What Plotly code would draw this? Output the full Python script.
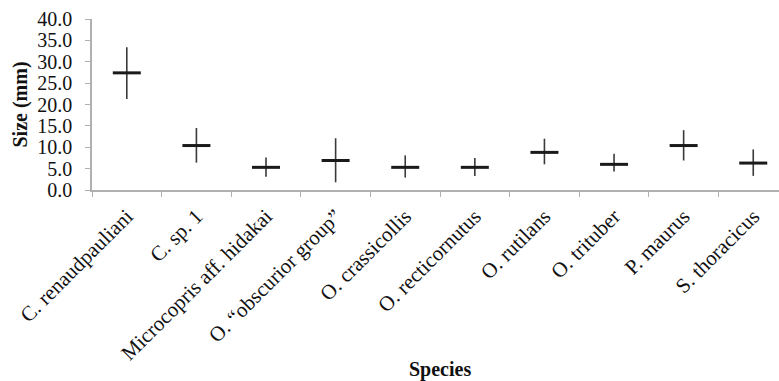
import plotly.graph_objects as go

species = ["C. renaudpauliani", "C. sp. 1", "Microcopris aff. hidakai",
           "O. “obscurior group”", "O. crassicollis", "O. recticornutus",
           "O. rutilans", "O. trituber", "P. maurus", "S. thoracicus"]
mean_size = [27.4, 10.4, 5.3, 6.9, 5.3, 5.3, 8.8, 6.0, 10.4, 6.3]
max_size = [33.4, 14.5, 7.6, 12.1, 8.1, 7.5, 12.0, 8.5, 14.0, 9.5]
min_size = [21.3, 6.4, 3.1, 1.8, 2.9, 3.3, 6.0, 4.3, 6.9, 3.3]

plus = [mx - m for mx, m in zip(max_size, mean_size)]
minus = [m - mn for m, mn in zip(mean_size, min_size)]

FONT = "Liberation Serif"

fig = go.Figure()
fig.add_trace(go.Scatter(
    x=species, y=mean_size, mode="markers",
    marker=dict(symbol="line-ew", size=20, color="#1a1a1a",
                line=dict(color="#1a1a1a", width=3)),
    error_y=dict(type="data", symmetric=False, array=plus, arrayminus=minus,
                 width=0, thickness=1.6, color="#3a3a3a"),
    showlegend=False,
))

fig.update_layout(
    width=779, height=381,
    margin=dict(l=92, r=0, t=19, b=191),
    paper_bgcolor="white", plot_bgcolor="white",
    font=dict(family=FONT, color="#111111"),
    xaxis=dict(
        type="category", range=[-0.5, 9.37],
        showline=True, linecolor="#b0b0b0", linewidth=1.5,
        ticks="outside", tickson="boundaries", ticklen=5, tickcolor="#b0b0b0",
        ticklabelstandoff=4,
        tickangle=-45, tickfont=dict(family=FONT, size=21, color="#111111"),
        showgrid=False, zeroline=False,
    ),
    yaxis=dict(
        range=[0, 40], tickvals=[0, 5, 10, 15, 20, 25, 30, 35, 40],
        tickformat=".1f",
        showline=True, linecolor="#b0b0b0", linewidth=1.5,
        ticks="outside", ticklen=5, tickcolor="#b0b0b0",
        ticklabelstandoff=9,
        tickfont=dict(family=FONT, size=20, color="#111111"),
        showgrid=False, zeroline=False,
    ),
    annotations=[
        dict(text="<b>Size (mm)</b>", xref="paper", yref="paper",
             x=(20 - 92) / 687, y=0.5, xanchor="center", yanchor="middle",
             textangle=-90, showarrow=False,
             font=dict(family=FONT, size=20, color="#111111")),
        dict(text="<b>Species</b>", xref="paper", yref="paper",
             x=(440 - 92) / 687, y=(190 - 369) / 171, xanchor="center",
             yanchor="middle", showarrow=False,
             font=dict(family=FONT, size=20, color="#111111")),
    ],
)

fig.write_html("out.html")
